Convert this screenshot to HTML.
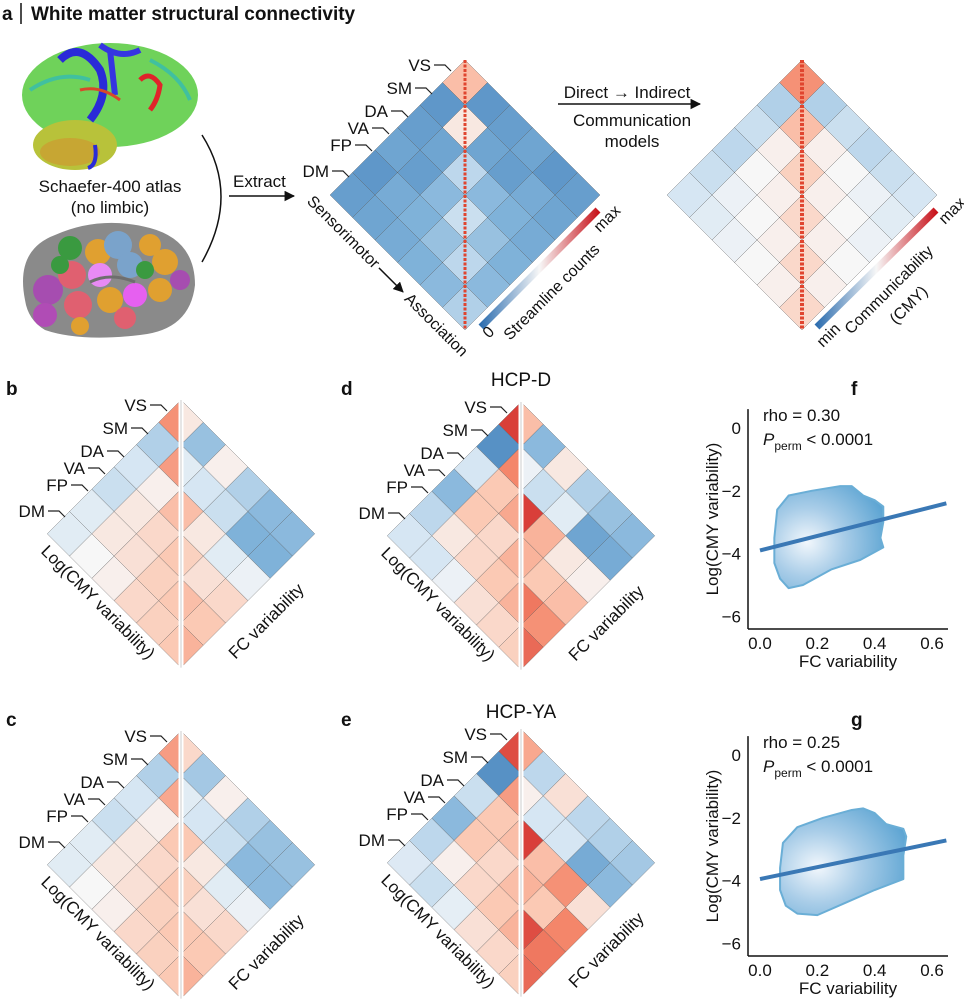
<!DOCTYPE html>
<html><head><meta charset="utf-8">
<style>
html,body{margin:0;padding:0;background:#fff;}
svg{display:block;font-family:"Liberation Sans",Arial,sans-serif;}
text{fill:#111;}
</style></head>
<body>
<svg id="fig" width="964" height="1000" viewBox="0 0 964 1000" xmlns="http://www.w3.org/2000/svg">
<defs>
  <linearGradient id="cbar" x1="0" y1="0" x2="1" y2="0">
    <stop offset="0" stop-color="#2f6fb0"/><stop offset="0.5" stop-color="#f7f7f7"/><stop offset="1" stop-color="#c8141c"/>
  </linearGradient>
  <radialGradient id="kdeF" cx="0.3" cy="0.55" r="0.75">
    <stop offset="0" stop-color="#f2f7fc"/><stop offset="0.45" stop-color="#a9cde8"/><stop offset="1" stop-color="#5ea5d3"/>
  </radialGradient>
  <radialGradient id="kdeG" cx="0.3" cy="0.55" r="0.75">
    <stop offset="0" stop-color="#f2f7fc"/><stop offset="0.45" stop-color="#a9cde8"/><stop offset="1" stop-color="#5ea5d3"/>
  </radialGradient>
  <marker id="arr" viewBox="0 0 10 10" refX="9" refY="5" markerWidth="7" markerHeight="7" orient="auto"><path d="M0,0 L10,5 L0,10 z" fill="#111"/></marker>
</defs>

<g>
  <text x="2" y="20" font-size="19" font-weight="bold">a</text>
  <line x1="21" y1="3" x2="21" y2="24" stroke="#111" stroke-width="1.5"/>
  <text x="31" y="20" font-size="19" font-weight="bold">White matter structural connectivity</text>
</g>

<g>
  <ellipse cx="110" cy="95" rx="88" ry="52" fill="#6fd25a"/>
  <ellipse cx="75" cy="145" rx="42" ry="25" fill="#b8c23a"/>
  <ellipse cx="70" cy="152" rx="30" ry="14" fill="#d0932e" opacity="0.6"/>
  <path d="M60,60 Q80,40 100,70 Q110,95 90,120" stroke="#2a2ad8" stroke-width="8" fill="none"/>
  <path d="M100,45 Q120,60 140,50 M110,50 L115,95" stroke="#3535e0" stroke-width="6" fill="none"/>
  <path d="M140,80 Q150,70 160,85 Q158,100 150,110" stroke="#e0242a" stroke-width="5" fill="none"/>
  <path d="M80,90 Q100,85 120,100" stroke="#d8482a" stroke-width="3" fill="none"/>
  <path d="M95,145 Q98,165 88,168" stroke="#2a2ad8" stroke-width="4" fill="none"/>
  <path d="M30,90 Q60,70 90,80 M150,60 Q180,75 190,100" stroke="#40c0a0" stroke-width="4" fill="none"/>
</g>
<text x="110" y="192" font-size="17" text-anchor="middle">Schaefer-400 atlas</text>
<text x="110" y="213" font-size="17" text-anchor="middle">(no limbic)</text>

<g>
  <path d="M25,300 Q15,250 55,235 Q100,215 150,228 Q195,240 195,285 Q190,330 140,335 Q80,342 45,330 Q28,320 25,300 z" fill="#8a8a8a"/>
  <circle cx="48" cy="290" r="15" fill="#a64db0"/><circle cx="45" cy="315" r="12" fill="#b04cb5"/>
  <circle cx="72" cy="275" r="14" fill="#e06070"/><circle cx="78" cy="305" r="14" fill="#e06070"/>
  <circle cx="70" cy="248" r="12" fill="#3a9a40"/><circle cx="60" cy="265" r="9" fill="#3a9a40"/>
  <circle cx="98" cy="252" r="13" fill="#e0a030"/><circle cx="100" cy="275" r="12" fill="#e88af5"/>
  <circle cx="118" cy="245" r="14" fill="#7aa3cb"/><circle cx="130" cy="265" r="13" fill="#7aa3cb"/>
  <circle cx="110" cy="300" r="13" fill="#e0a030"/><circle cx="135" cy="295" r="12" fill="#e660f0"/>
  <circle cx="150" cy="245" r="11" fill="#e0a030"/><circle cx="165" cy="262" r="13" fill="#e0a030"/>
  <circle cx="145" cy="270" r="9" fill="#3a9a40"/><circle cx="160" cy="290" r="12" fill="#e0a030"/>
  <circle cx="125" cy="318" r="11" fill="#e06070"/><circle cx="180" cy="280" r="10" fill="#a64db0"/>
  <circle cx="80" cy="326" r="9" fill="#e0a030"/>
  <path d="M90,282 Q110,272 135,282" stroke="#6e6e6e" stroke-width="3" fill="none"/>
</g>

<path d="M202,135 Q240,195 202,262" stroke="#111" stroke-width="1.5" fill="none"/>
<line x1="229" y1="196" x2="294" y2="196" stroke="#111" stroke-width="1.5" marker-end="url(#arr)"/>
<text x="233" y="187" font-size="17">Extract</text>

<text x="627" y="98" font-size="17" text-anchor="middle">Direct → Indirect</text>
<line x1="558" y1="104" x2="700" y2="104" stroke="#111" stroke-width="1.5" marker-end="url(#arr)"/>
<text x="632" y="126" font-size="17" text-anchor="middle">Communication</text>
<text x="632" y="147" font-size="17" text-anchor="middle">models</text>

<g id="heatmaps"></g>
<g id="scatters"></g>

<line x1="481" y1="327" x2="598" y2="210" stroke="url(#cbar)" stroke-width="7"/>
<g transform="translate(489,339) rotate(-45)"><text font-size="16">0</text></g>
<g transform="translate(510,341) rotate(-45)"><text font-size="16">Streamline counts</text></g>
<g transform="translate(600,233) rotate(-45)"><text font-size="16">max</text></g>

<line x1="817" y1="327" x2="936" y2="210" stroke="url(#cbar)" stroke-width="7"/>
<g transform="translate(823,348) rotate(-45)"><text font-size="16">min</text></g>
<g transform="translate(851,335) rotate(-45)"><text font-size="16">Communicability</text></g>
<g transform="translate(945,225) rotate(-45)"><text font-size="16">max</text></g>
<g transform="translate(896,325) rotate(-45)"><text font-size="16">(CMY)</text></g>

<g transform="translate(316,212) rotate(45)">
  <text x="-14" y="0" font-size="16">Sensorimotor</text>
  <line x1="84" y1="-5" x2="118" y2="-5" stroke="#111" stroke-width="1.5" marker-end="url(#arr)"/>
  <text x="124" y="0" font-size="16">Association</text>
</g>

<text x="6" y="395" font-size="19" font-weight="bold">b</text>
<text x="6" y="726" font-size="19" font-weight="bold">c</text>
<text x="341" y="395" font-size="19" font-weight="bold">d</text>
<text x="341" y="726" font-size="19" font-weight="bold">e</text>
<text x="851" y="395" font-size="19" font-weight="bold">f</text>
<text x="851" y="726" font-size="19" font-weight="bold">g</text>
<text x="521" y="386" font-size="19" text-anchor="middle">HCP-D</text>
<text x="521" y="718" font-size="19" text-anchor="middle">HCP-YA</text>
</svg>

<script>
// ---------- heatmap data (lower-triangular, rows VS,SM,DA,VA,FP,DM) ----------
const networks = ["VS","SM","DA","VA","FP","DM"];
const scA  = [[0.35],[-0.7,0.1],[-0.65,-0.6,-0.25],[-0.6,-0.65,-0.45,-0.2],[-0.7,-0.55,-0.5,-0.4,-0.25],[-0.65,-0.6,-0.55,-0.5,-0.45,-0.3]];
const cmyA = [[0.55],[-0.3,0.35],[-0.2,0.05,0.25],[-0.25,0,0.05,0.2],[-0.2,-0.05,0,0.05,0.2],[-0.15,-0.1,-0.05,0,0.05,0.2]];
const cmyB = [[0.55],[-0.3,0.5],[-0.15,0.05,0.35],[-0.2,0.1,0.2,0.3],[-0.1,0.1,0.15,0.25,0.3],[-0.1,0,0.05,0.2,0.25,0.3]];
const fcB  = [[0.1],[-0.4,-0.1],[0.05,-0.15,0.35],[-0.3,-0.2,0.1,0.25],[-0.45,-0.5,-0.1,0.15,0.35],[-0.45,-0.5,-0.05,0.2,0.3,0.4]];
const cmyC = [[0.5],[-0.3,0.45],[-0.15,0.05,0.3],[-0.2,0.1,0.2,0.3],[-0.1,0.1,0.15,0.25,0.3],[-0.1,0,0.05,0.2,0.25,0.3]];
const fcC  = [[0.2],[-0.35,-0.1],[0.05,-0.15,0.3],[-0.3,-0.2,0.1,0.25],[-0.4,-0.45,-0.1,0.15,0.3],[-0.4,-0.45,-0.05,0.2,0.3,0.4]];
const cmyD = [[0.85],[-0.75,0.6],[-0.15,0.3,0.45],[-0.45,0.3,0.2,0.4],[-0.25,0.1,0.2,0.3,0.4],[-0.15,-0.15,-0.05,0.15,0.2,0.25]];
const fcD  = [[0.35],[-0.45,-0.05],[0.1,-0.2,0.85],[-0.3,-0.1,0.4,0.4],[-0.4,-0.6,0.1,0.3,0.65],[-0.45,-0.55,0.05,0.35,0.55,0.7]];
const cmyE = [[0.8],[-0.75,0.5],[-0.2,0.3,0.35],[-0.45,0.3,0.2,0.35],[-0.25,0.05,0.2,0.3,0.4],[-0.12,-0.2,-0.08,0.15,0.2,0.25]];
const fcE  = [[0.45],[-0.25,0.05],[0.15,-0.15,0.85],[-0.25,-0.15,0.35,0.4],[-0.3,-0.55,0.55,0.3,0.8],[-0.35,-0.45,0.15,0.6,0.65,0.7]];

// ---------- scatter data ----------
const xTicks = [0.0,0.2,0.4,0.6];
const xTickLabels = ["0.0","0.2","0.4","0.6"];
const yTicks = [0,-2,-4,-6];
const yTickLabels = ["0","\u22122","\u22124","\u22126"];
const fitF = [[0,-3.9],[0.65,-2.4]];
const fitG = [[0,-3.95],[0.65,-2.72]];
const kdeFx = [0.05,0.06,0.1,0.18,0.28,0.32,0.36,0.4,0.43,0.43,0.42,0.43,0.35,0.25,0.15,0.1,0.07,0.05];
const kdeFy = [-3.5,-2.6,-2.15,-2.0,-1.85,-1.85,-2.15,-2.3,-2.5,-3.0,-3.5,-3.8,-4.2,-4.5,-5.0,-5.1,-4.8,-4.3];
const kdeGx = [0.07,0.08,0.13,0.22,0.32,0.36,0.4,0.44,0.5,0.51,0.5,0.5,0.4,0.3,0.2,0.13,0.09,0.07];
const kdeGy = [-3.6,-2.8,-2.3,-2.0,-1.75,-1.7,-1.85,-2.2,-2.35,-2.6,-3.2,-3.95,-4.3,-4.7,-5.1,-5.05,-4.8,-4.3];
const rhoLabels = ["rho = 0.30","rho = 0.25"];

const NS = "http://www.w3.org/2000/svg";
function mk(tag, attrs, parent){ const e=document.createElementNS(NS,tag); for(const k in attrs) e.setAttribute(k,attrs[k]); if(parent) parent.appendChild(e); return e; }

const stops = [[-1,[47,111,176]],[-0.5,[127,178,217]],[-0.15,[214,230,243]],[0,[247,247,247]],[0.3,[251,201,180]],[0.6,[244,134,106]],[1,[200,20,28]]];
function cmap(v){
  v=Math.max(-1,Math.min(1,v));
  for(let k=0;k<stops.length-1;k++){
    const a=stops[k],b=stops[k+1];
    if(v<=b[0]){ const t=(v-a[0])/(b[0]-a[0]); const c=a[1].map((x,i)=>Math.round(x+(b[1][i]-x)*t)); return "rgb("+c[0]+","+c[1]+","+c[2]+")"; }
  }
  return "rgb(200,20,28)";
}

const hm = document.getElementById('heatmaps');
let clipId = 0;
function drawHalf(g, cx, top, h, arr, side, gap, name){
  const id = 'clip'+(clipId++);
  const cp = mk('clipPath',{id:id},g);
  const n = arr.length;
  if(side==='left') mk('rect',{x:cx-n*h-2,y:top-2,width:n*h+2-gap/2,height:2*n*h+4},cp);
  else mk('rect',{x:cx+gap/2,y:top-2,width:n*h+2,height:2*n*h+4},cp);
  const grp = mk('g',{'clip-path':'url(#'+id+')'},g);
  
  
  for(let i=0;i<n;i++) for(let j=0;j<=i;j++){
    const v = arr[i][j];
    const cxx = side==='left' ? cx+(j-i)*h : cx+(i-j)*h;
    const cy = top+(i+j+1)*h;
    const p = mk('polygon',{points:cxx+","+(cy-h)+" "+(cxx+h)+","+cy+" "+cxx+","+(cy+h)+" "+(cxx-h)+","+cy,fill:cmap(v),stroke:'#5a5a5a','stroke-width':0.5,'stroke-opacity':0.7},grp);
    
    
  }
}
function diagLine(g, cx, top, H, w){
  const l=mk('line',{x1:cx,y1:top,x2:cx,y2:top+2*H,stroke:'#e0452f','stroke-width':w,'stroke-dasharray':'3 1.5'},g);
  
  
}
function drawLabels(g, cx, top){
  const offs=[[-34,5],[-53,28],[-77,51],[-96,68],[-113,85],[-136,111]];
  networks.forEach((nm,k)=>{
    const x=cx+offs[k][0], y=top+offs[k][1];
    const t=mk('text',{x:x,y:y+6,'font-size':17,'text-anchor':'end'},g);
    t.textContent=nm;
    
    
    const l=mk('polyline',{points:(x+3)+","+y+" "+(x+14)+","+y+" "+(x+20)+","+(y+6),fill:'none',stroke:'#222','stroke-width':1.2},g);
    
    
  });
}
function axisLabels(g, cx, top, H){
  const a=mk('g',{transform:'translate('+(cx-H)+','+(top+H)+') rotate(45)'},g);
  
  
  const t1=mk('text',{x:8,y:18,'font-size':17},a); t1.textContent='Log(CMY variability)';
  const b=mk('g',{transform:'translate('+cx+','+(top+2*H)+') rotate(-45)'},g);
  
  
  const t2=mk('text',{x:44,y:33,'font-size':17},b); t2.textContent='FC variability';
}

drawHalf(hm, 465, 60, 22.5, scA, 'left', 0, 'sc-matrix-left');
drawHalf(hm, 465, 60, 22.5, scA, 'right', 0, 'sc-matrix-right');
diagLine(hm, 465, 60, 135, 3);
drawLabels(hm, 465, 60);
drawHalf(hm, 802, 60, 22.5, cmyA, 'left', 0, 'cmy-matrix-left');
drawHalf(hm, 802, 60, 22.5, cmyA, 'right', 0, 'cmy-matrix-right');
diagLine(hm, 802, 60, 135, 4);
const panels = [
  [181,400,cmyB,fcB,'b'],[181,731,cmyC,fcC,'c'],
  [521,402,cmyD,fcD,'d'],[521,729,cmyE,fcE,'e']
];
panels.forEach(p=>{
  drawHalf(hm,p[0],p[1],22.3,p[2],'left',5,'panel-'+p[4]+'-cmy-half');
  drawHalf(hm,p[0],p[1],22.3,p[3],'right',5,'panel-'+p[4]+'-fc-half');
  const dv=mk('line',{x1:p[0],y1:p[1],x2:p[0],y2:p[1]+6*22.3*2,stroke:'#aaa','stroke-width':0.6},hm);
  
  
  drawLabels(hm,p[0],p[1]);
  axisLabels(hm,p[0],p[1],6*22.3);
});

const sc = document.getElementById('scatters');
function scatter(name, yZero, kx, ky, fit, rho, grad){
  const g=mk('g',{},sc);
  
  
  const X = v => 760 + v*286.7;
  const Y = v => yZero - v*31.4;
  const axTop = Y(0.6), axBot = Y(-6.4);
  const pts = kx.map((x,i)=>X(x)+","+Y(ky[i])).join(' ');
  const blob=mk('polygon',{points:pts,fill:'url(#'+grad+')','stroke':'#6aaed6','stroke-width':2,'stroke-linejoin':'round'},g);
  
  
  const ln=mk('line',{x1:X(fit[0][0]),y1:Y(fit[0][1]),x2:X(fit[1][0]),y2:Y(fit[1][1]),stroke:'#3a78b5','stroke-width':4},g);
  
  
  const ya=mk('line',{x1:748,y1:axTop,x2:748,y2:axBot,stroke:'#111','stroke-width':1.5},g);
  
  
  const xa=mk('line',{x1:748,y1:axBot,x2:948,y2:axBot,stroke:'#111','stroke-width':1.5},g);
  
  
  xTicks.forEach((t,i)=>{
    const tx=mk('text',{x:X(t),y:axBot+20,'font-size':17,'text-anchor':'middle'},g);
    tx.textContent=xTickLabels[i];
    
    
  });
  yTicks.forEach((t,i)=>{
    const tx=mk('text',{x:741,y:Y(t)+6,'font-size':17,'text-anchor':'end'},g);
    tx.textContent=yTickLabels[i];
    
    
  });
  const xl=mk('text',{x:848,y:axBot+38,'font-size':17,'text-anchor':'middle'},g);
  xl.textContent='FC variability';
  
  
  const cyl=(axTop+axBot)/2;
  const yl=mk('text',{x:0,y:0,'font-size':17,'text-anchor':'middle',transform:'translate(718,'+cyl+') rotate(-90)'},g);
  yl.textContent='Log(CMY variability)';
  
  
  const r=mk('text',{x:763,y:Y(0)-7,'font-size':17},g);
  r.textContent=rho;
  
  
  const p=mk('text',{x:763,y:Y(0)+17,'font-size':17},g);
  
  
  const s1=mk('tspan',{'font-style':'italic'},p); s1.textContent='P';
  const s2=mk('tspan',{'font-size':12,dy:5},p); s2.textContent='perm';
  const s3=mk('tspan',{dy:-5},p); s3.textContent=' < 0.0001';
}
scatter('scatter-f', 428, kdeFx, kdeFy, fitF, rhoLabels[0], 'kdeF');
scatter('scatter-g', 755, kdeGx, kdeGy, fitG, rhoLabels[1], 'kdeG');
</script>
</body></html>
